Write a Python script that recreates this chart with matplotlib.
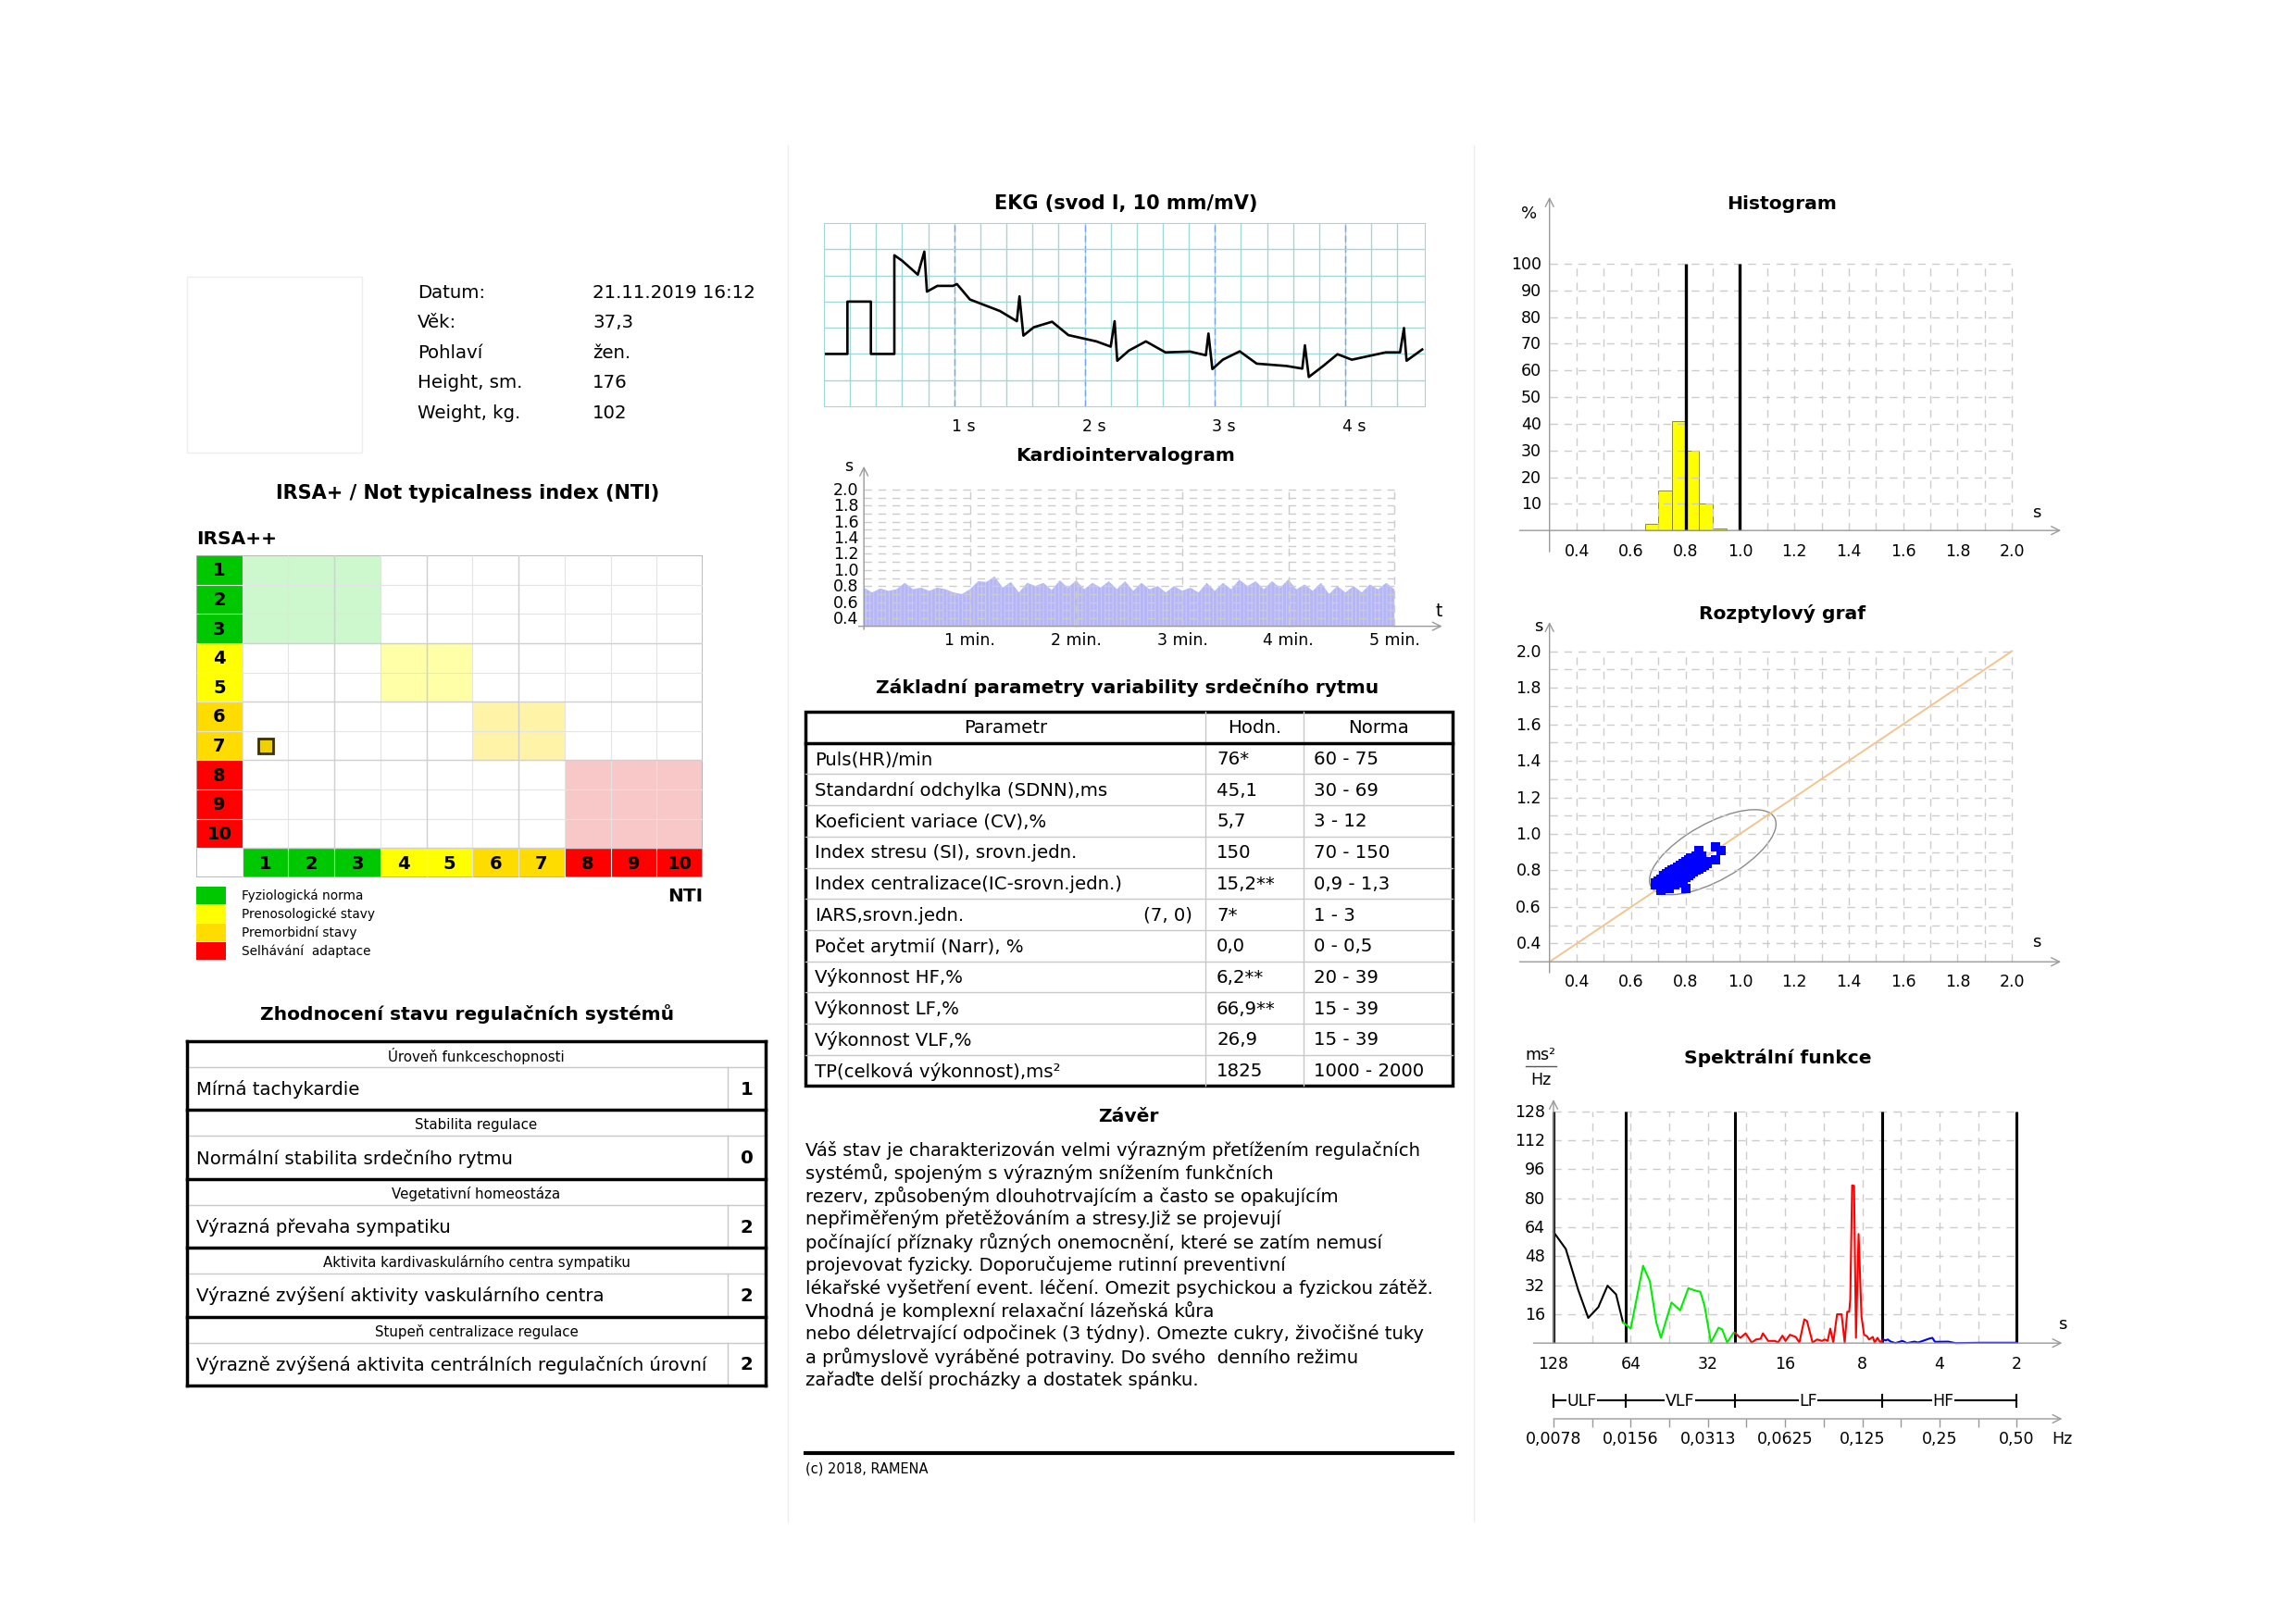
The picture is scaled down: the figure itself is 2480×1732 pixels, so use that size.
import matplotlib
matplotlib.use('Agg')
import matplotlib.pyplot as plt
from matplotlib.patches import Rectangle, Ellipse
import numpy as np

plt.rcParams['font.family'] = ['DejaVu Sans']
plt.rcParams['hatch.linewidth'] = 0.8

# ---------------- data ----------------
info_labels = ['Datum:', 'Věk:', 'Pohlaví', 'Height, sm.', 'Weight, kg.']
info_values = ['21.11.2019 16:12', '37,3', 'žen.', '176', '102']

level_colors = ['#00c800'] * 3 + ['#ffff00'] * 2 + ['#ffdc00'] * 2 + ['#ff0000'] * 3
zone_spans = [(1, 3), (4, 5), (6, 7), (8, 10)]
zone_colors = ['#cdf7cd', '#ffffa8', '#fff3a8', '#f8c8c8']
nti_value, irsa_value = 1, 7
legend_labels = ['Fyziologická norma', 'Prenosologické stavy', 'Premorbidní stavy', 'Selhávání  adaptace']
legend_colors = ['#00c800', '#ffff00', '#ffdc00', '#ff0000']

reg_headers = ['Úroveň funkceschopnosti', 'Stabilita regulace', 'Vegetativní homeostáza',
               'Aktivita kardivaskulárního centra sympatiku', 'Stupeň centralizace regulace']
reg_texts = ['Mírná tachykardie', 'Normální stabilita srdečního rytmu', 'Výrazná převaha sympatiku',
             'Výrazné zvýšení aktivity vaskulárního centra',
             'Výrazně zvýšená aktivita centrálních regulačních úrovní']
reg_scores = [1, 0, 2, 2, 2]

ekg_t = [0, 0.18, 0.18, 0.36, 0.36, 0.54, 0.54, 0.60, 0.72, 0.77, 0.79, 0.87, 0.99, 1.02, 1.12,
         1.35, 1.48, 1.50, 1.53, 1.61, 1.75, 1.875, 2.09, 2.20, 2.23, 2.25, 2.34, 2.47, 2.62, 2.81,
         2.93, 2.95, 2.98, 3.06, 3.19, 3.32, 3.55, 3.67, 3.69, 3.72, 3.83, 3.94, 4.05, 4.31, 4.42,
         4.45, 4.47, 4.59]
ekg_mv = [2, 2, 4, 4, 2, 2, 5.77, 5.56, 5.03, 5.91, 4.38, 4.6, 4.6, 4.67, 4.08,
          3.64, 3.25, 4.2, 2.7, 3.02, 3.23, 2.72, 2.48, 2.28, 3.25, 1.74, 2.13, 2.48, 2.06, 2.09,
          1.95, 2.78, 1.42, 1.78, 2.1, 1.63, 1.54, 1.44, 2.33, 1.12, 1.54, 1.99, 1.78, 2.06, 2.06,
          2.99, 1.74, 2.17]
ekg_ticks = [1, 2, 3, 4]

kig_rr = [0.78, 0.72, 0.77, 0.74, 0.76, 0.84, 0.76, 0.78, 0.74, 0.78, 0.76, 0.72, 0.70, 0.76,
          0.86, 0.85, 0.92, 0.78, 0.85, 0.72, 0.84, 0.80, 0.84, 0.75, 0.87, 0.78, 0.87, 0.76,
          0.84, 0.78, 0.86, 0.76, 0.86, 0.74, 0.84, 0.76, 0.80, 0.72, 0.80, 0.74, 0.78, 0.72,
          0.84, 0.74, 0.84, 0.76, 0.88, 0.80, 0.86, 0.76, 0.86, 0.78, 0.88, 0.76, 0.82, 0.74,
          0.84, 0.70, 0.80, 0.72, 0.80, 0.72, 0.82, 0.76, 0.84, 0.76]
kig_minutes = [1, 2, 3, 4, 5]

param_names = ['Puls(HR)/min', 'Standardní odchylka (SDNN),ms', 'Koeficient variace (CV),%',
               'Index stresu (SI), srovn.jedn.', 'Index centralizace(IC-srovn.jedn.)',
               'IARS,srovn.jedn.', 'Počet arytmií (Narr), %', 'Výkonnost HF,%', 'Výkonnost LF,%',
               'Výkonnost VLF,%', 'TP(celková výkonnost),ms²']
param_values = ['76*', '45,1', '5,7', '150', '15,2**', '7*', '0,0', '6,2**', '66,9**', '26,9', '1825']
param_norms = ['60 - 75', '30 - 69', '3 - 12', '70 - 150', '0,9 - 1,3', '1 - 3', '0 - 0,5',
               '20 - 39', '15 - 39', '15 - 39', '1000 - 2000']
iars_pair = '(7, 0)'

conclusion = [
    'Váš stav je charakterizován velmi výrazným přetížením regulačních',
    'systémů, spojeným s výrazným snížením funkčních',
    'rezerv, způsobeným dlouhotrvajícím a často se opakujícím',
    'nepřiměřeným přetěžováním a stresy.Již se projevují',
    'počínající příznaky různých onemocnění, které se zatím nemusí',
    'projevovat fyzicky. Doporučujeme rutinní preventivní',
    'lékařské vyšetření event. léčení. Omezit psychickou a fyzickou zátěž.',
    'Vhodná je komplexní relaxační lázeňská kůra',
    'nebo déletrvající odpočinek (3 týdny). Omezte cukry, živočišné tuky',
    'a průmyslově vyráběné potraviny. Do svého  denního režimu',
    'zařaďte delší procházky a dostatek spánku.',
]

hist_left = [0.65, 0.70, 0.75, 0.80, 0.85, 0.90]
hist_pct = [2.5, 15, 41, 30, 10, 0.8]
hist_marks = [0.8, 1.0]

# successive RR intervals (s) for the Poincaré plot
rr_seq = [0.70, 0.73, 0.70, 0.72, 0.75, 0.72, 0.74, 0.77, 0.74, 0.76, 0.79, 0.76, 0.78, 0.81,
          0.78, 0.80, 0.83, 0.80, 0.82, 0.85, 0.82, 0.84, 0.87, 0.84, 0.86, 0.88, 0.85, 0.83,
          0.86, 0.83, 0.80, 0.83, 0.80, 0.77, 0.80, 0.77, 0.74, 0.77, 0.74, 0.71, 0.74, 0.71,
          0.69, 0.72, 0.70, 0.73, 0.76, 0.74, 0.78, 0.76, 0.80, 0.78, 0.82, 0.80, 0.84, 0.82,
          0.86, 0.84, 0.88, 0.85, 0.91, 0.93, 0.91, 0.86, 0.84, 0.81, 0.84, 0.80, 0.77, 0.80,
          0.76, 0.78, 0.75, 0.72, 0.75, 0.72, 0.70, 0.73, 0.71, 0.74, 0.77, 0.75, 0.79, 0.82,
          0.79, 0.83, 0.86, 0.83, 0.81, 0.78, 0.81, 0.78, 0.75, 0.78, 0.75, 0.73, 0.76, 0.79,
          0.77, 0.80, 0.70, 0.74, 0.70, 0.73, 0.77, 0.73, 0.76, 0.80, 0.76, 0.79, 0.83, 0.79,
          0.82, 0.86, 0.82, 0.85, 0.88, 0.84, 0.87, 0.83, 0.86, 0.82, 0.78, 0.82, 0.78, 0.74,
          0.78, 0.74, 0.70, 0.74, 0.71, 0.69, 0.73, 0.71, 0.75, 0.72, 0.77, 0.74, 0.79, 0.76,
          0.81, 0.78, 0.83, 0.80, 0.85, 0.82, 0.87, 0.84, 0.88, 0.85, 0.81, 0.77, 0.81, 0.77,
          0.73, 0.77, 0.73, 0.70, 0.74, 0.72, 0.76, 0.73, 0.78, 0.75, 0.80, 0.77, 0.82, 0.79,
          0.84, 0.81, 0.86, 0.83, 0.80, 0.84, 0.80, 0.76, 0.80, 0.76, 0.72, 0.76, 0.73, 0.77,
          0.80, 0.77, 0.81, 0.84, 0.81, 0.78, 0.82, 0.79, 0.75, 0.79, 0.75, 0.78, 0.80]
ell_center, ell_major, ell_minor = 0.9, 0.6, 0.27

ulf_f = [0.00781, 0.00872, 0.00976, 0.01067, 0.01168, 0.01269, 0.01370, 0.01458]
ulf_p = [61.4, 52.0, 29.2, 13.9, 19.8, 31.7, 26.9, 11.4]
vlf_f = [0.01458, 0.01563, 0.01746, 0.01855, 0.01966, 0.02049, 0.02254, 0.02436, 0.02622,
         0.02761, 0.02919, 0.03031, 0.03211, 0.03439, 0.03555, 0.03714, 0.03938, 0.04004]
vlf_p = [11.4, 8.0, 42.7, 34.2, 11.4, 2.9, 22.4, 18.1, 30.3, 29.2, 28.3, 20.7, 0.3, 8.5, 7.5,
         0.3, 5.8, 5.4]
lf_f = [0.0400, 0.04182, 0.04384, 0.04627, 0.04817, 0.05018, 0.05120, 0.05367, 0.05704, 0.05860,
        0.06105, 0.06272, 0.06528, 0.06872, 0.07105, 0.07428, 0.07605, 0.07999, 0.08333, 0.08705,
        0.08913, 0.09157, 0.09375, 0.09633, 0.09967, 0.1038, 0.1067, 0.1092, 0.1111, 0.1122,
        0.1141, 0.1161, 0.1181, 0.1209, 0.1241, 0.1270, 0.1305, 0.1328, 0.1374, 0.1397, 0.1432,
        0.1471, 0.1502]
lf_p = [5.4, 2.9, 5.4, 0.3, 2.0, 2.4, 5.4, 1.2, 1.2, 0.3, 4.1, 1.2, 4.6, 3.4, 0.3, 13.1, 12.2,
        0.3, 2.0, 1.2, 2.0, 1.2, 8.0, 0.3, 15.9, 15.9, 0.3, 17.3, 17.3, 24.1, 87.1, 86.8, 2.9,
        60.2, 14.7, 4.6, 3.7, 2.0, 3.4, 0.3, 2.9, 0.3, 2.0]
hf_f = [0.1502, 0.1544, 0.1571, 0.1614, 0.1683, 0.1792, 0.1867, 0.1995, 0.2064, 0.2283, 0.2345,
        0.2401, 0.2702, 0.2893, 0.3662, 0.5]
hf_p = [2.0, 1.5, 2.0, 0.8, 0.0, 1.2, 0.0, 0.8, 0.3, 2.5, 2.9, 0.7, 0.8, 0.0, 0.2, 0.2]
band_edges = [1 / 128, 0.015, 0.04, 0.15, 0.5]
band_names = ['ULF', 'VLF', 'LF', 'HF']
period_labels = ['128', '64', '32', '16', '8', '4', '2']
freq_labels = ['0,0078', '0,0156', '0,0313', '0,0625', '0,125', '0,25', '0,50']

# ---------------- layout helpers ----------------
W, H = 2480, 1733
fig = plt.figure(figsize=(W / 100, H / 100), dpi=100)
bg = fig.add_axes([0, 0, 1, 1])
bg.set_xlim(0, W)
bg.set_ylim(H, 0)
bg.axis('off')

GRID = '#cccccc'
AXC = '#9a9a9a'
TFS = 14.6   # section titles
BFS = 14.2   # body text
KFS = 12.5   # tick labels


def place(x0, y0, x1, y1):
    ax = fig.add_axes([x0 / W, 1 - y1 / H, (x1 - x0) / W, (y1 - y0) / H])
    ax.patch.set_alpha(0)
    return ax


def bare(ax):
    for s in ax.spines.values():
        s.set_visible(False)
    ax.set_xticks([])
    ax.set_yticks([])


def arrow(ax, start, end):
    ax.annotate('', xy=end, xytext=start,
                arrowprops=dict(arrowstyle='->', color=AXC, lw=1.0, shrinkA=0, shrinkB=0,
                                mutation_scale=16),
                annotation_clip=False)


def dgrid(ax, hs, vs, x0, x1, y0, y1):
    ax.hlines(hs, x0, x1, colors=GRID, lw=1, linestyles=(0, (6, 5)))
    ax.vlines(vs, y0, y1, colors=GRID, lw=1, linestyles=(0, (6, 5)))


# column separators
bg.plot([851, 851], [158, 1645], color='#eeeeee', lw=1)
bg.plot([1592, 1592], [158, 1645], color='#eeeeee', lw=1)

# ---------------- info block ----------------
bg.add_patch(Rectangle((202, 300), 189, 190, fill=False, ec='#eeeeee', lw=1))
for i, (lab, val) in enumerate(zip(info_labels, info_values)):
    y = 316 + i * 32.5
    bg.text(451, y, lab, fontsize=BFS, va='center')
    bg.text(640, y, val, fontsize=BFS, va='center')

# ---------------- IRSA grid ----------------
bg.text(505, 533, 'IRSA+ / Not typicalness index (NTI)', fontsize=15, weight='bold',
        ha='center', va='center')
bg.text(212, 582, 'IRSA++', fontsize=14.5, weight='bold', va='center')
gx = place(212, 601, 759, 949)
gx.set_xlim(0, 11)
gx.set_ylim(11, 0)
bare(gx)
for (a, b), c in zip(zone_spans, zone_colors):
    gx.add_patch(Rectangle((a, a - 1), b - a + 1, b - a + 1, color=c, lw=0))
for i, c in enumerate(level_colors):
    gx.add_patch(Rectangle((0, i), 1, 1, color=c, lw=0))
    gx.add_patch(Rectangle((i + 1, 10), 1, 1, color=c, lw=0))
    gx.text(0.5, i + 0.5, str(i + 1), fontsize=14, weight='bold', ha='center', va='center')
    gx.text(i + 1.5, 10.5, str(i + 1), fontsize=14, weight='bold', ha='center', va='center')
gx.hlines(np.arange(1, 11), 0, 11, colors='#e4e4e4', lw=0.8)
gx.vlines(np.arange(1, 11), 0, 11, colors='#e4e4e4', lw=0.8)
gx.hlines([3, 5, 7, 10], 1, 11, colors='#d0d0d0', lw=1)
gx.vlines([3, 5, 7], 0, 10, colors='#d0d0d0', lw=1)
gx.add_patch(Rectangle((0, 0), 11, 11, fill=False, ec='#b0b0b0', lw=1.2))
gx.plot(nti_value + 0.5, irsa_value - 0.5, 's', ms=11, mfc='#f2d000', mec='#3a3000', mew=2)

for i, (lab, c) in enumerate(zip(legend_labels, legend_colors)):
    y = 968 + i * 20
    bg.add_patch(Rectangle((212, y - 9.5), 32, 19, color=c, lw=0))
    bg.text(261, y, lab, fontsize=9.8, va='center')
bg.text(759, 968, 'NTI', fontsize=14.5, weight='bold', ha='right', va='center')

# ---------------- regulation table ----------------
bg.text(505, 1096, 'Zhodnocení stavu regulačních systémů', fontsize=TFS, weight='bold',
        ha='center', va='center')
tx0, tx1, tvx, ty0, bh, sh = 202, 827, 786, 1126, 74.4, 28
for i, (hd, tx, sc) in enumerate(zip(reg_headers, reg_texts, reg_scores)):
    top = ty0 + i * bh
    bg.plot([tx0, tx1], [top + sh, top + sh], color='#c8c8c8', lw=1)
    bg.plot([tvx, tvx], [top + sh, top + bh], color='#c8c8c8', lw=1)
    bg.text((tx0 + tx1) / 2, top + sh / 2 + 1, hd, fontsize=10.8, ha='center', va='center')
    bg.text(tx0 + 10, top + sh + (bh - sh) / 2, tx, fontsize=BFS, va='center')
    bg.text((tvx + tx1) / 2, top + sh + (bh - sh) / 2, str(sc), fontsize=BFS, weight='bold',
            ha='center', va='center')
    bg.plot([tx0, tx1], [top, top], color='black', lw=2.5)
bg.plot([tx0, tx1], [ty0 + 5 * bh, ty0 + 5 * bh], color='black', lw=2.5)
bg.plot([tx0, tx0], [ty0, ty0 + 5 * bh], color='black', lw=2.5)
bg.plot([tx1, tx1], [ty0, ty0 + 5 * bh], color='black', lw=2.5)

# ---------------- EKG ----------------
bg.text(1216, 220, 'EKG (svod I, 10 mm/mV)', fontsize=15, weight='bold', ha='center', va='center')
ek = place(890, 242, 1539, 440)
ek.set_xlim(0, 4.61)
ek.set_ylim(0, 7)
for s in ek.spines.values():
    s.set_color('#9fd8d8')
ek.vlines(np.arange(0.2, 4.6, 0.2), 0, 7, colors='#9fd8d8', lw=1)
ek.vlines(ekg_ticks, 0, 7, colors='#7f9fe8', lw=1, linestyles=(0, (5, 3)))
ek.hlines(np.arange(1, 7), 0, 4.61, colors='#9fd8d8', lw=1)
ek.plot(ekg_t, ekg_mv, color='black', lw=1.9)
ek.set_xticks([])
ek.set_yticks([])
for t in ekg_ticks:
    ek.text(t + 0.07, -0.75, f'{t} s', fontsize=KFS, ha='center', va='center')

# ---------------- Kardiointervalogram ----------------
bg.text(1216, 492, 'Kardiointervalogram', fontsize=TFS, weight='bold', ha='center', va='center')
kg = place(924, 503, 1560, 682)
kg.set_xlim(-0.08, 5.47)
kg.set_ylim(0.25, 2.31)
bare(kg)
kt = np.linspace(0, 5, len(kig_rr))
kg.fill_between(kt, 0.3, kig_rr, facecolor='#b6b6f4', edgecolor='#c9c9f8', hatch='||||', lw=0)
dgrid(kg, np.arange(0.4, 2.01, 0.1), kig_minutes, 0, 5, 0.3, 2.0)
arrow(kg, (-0.05, 0.3), (5.45, 0.3))
arrow(kg, (0, 0.26), (0, 2.29))
for v in np.arange(0.4, 2.01, 0.2):
    kg.text(-0.05, v, f'{v:.1f}', fontsize=KFS, ha='right', va='center')
for m in kig_minutes:
    kg.text(m, 0.14, f'{m} min.', fontsize=KFS, ha='center', va='center')
kg.text(-0.14, 2.3, 's', fontsize=12.5, ha='center', va='center')
kg.text(5.42, 0.5, 't', fontsize=13.5, ha='center', va='center')

# ---------------- parameter table ----------------
bg.text(1218, 743, 'Základní parametry variability srdečního rytmu', fontsize=TFS, weight='bold',
        ha='center', va='center')
px0, px1, pc1, pc2, py0, rh = 870, 1569, 1302, 1408, 770, 33.7
nrow = len(param_names) + 1
for r in range(1, nrow):
    bg.plot([px0, px1], [py0 + r * rh, py0 + r * rh], color='#c8c8c8', lw=1)
bg.plot([pc1, pc1], [py0, py0 + nrow * rh], color='#c8c8c8', lw=1)
bg.plot([pc2, pc2], [py0, py0 + nrow * rh], color='#c8c8c8', lw=1)
bg.plot([px0, px1], [py0 + rh, py0 + rh], color='black', lw=2.5)
bg.add_patch(Rectangle((px0, py0), px1 - px0, nrow * rh, fill=False, ec='black', lw=2.5))
bg.text((px0 + pc1) / 2, py0 + rh / 2, 'Parametr', fontsize=BFS, ha='center', va='center')
bg.text((pc1 + pc2) / 2, py0 + rh / 2, 'Hodn.', fontsize=BFS, ha='center', va='center')
bg.text((pc2 + px1) / 2, py0 + rh / 2, 'Norma', fontsize=BFS, ha='center', va='center')
for r, (nm, vl, nr) in enumerate(zip(param_names, param_values, param_norms)):
    yc = py0 + (r + 1.5) * rh
    bg.text(px0 + 10, yc, nm, fontsize=BFS, va='center')
    bg.text(pc1 + 12, yc, vl, fontsize=BFS, va='center')
    bg.text(pc2 + 11, yc, nr, fontsize=BFS, va='center')
bg.text(pc1 - 14, py0 + 6.5 * rh, iars_pair, fontsize=BFS, ha='right', va='center')

# ---------------- conclusion ----------------
bg.text(1219, 1207, 'Závěr', fontsize=TFS, weight='bold', ha='center', va='center')
for i, line in enumerate(conclusion):
    bg.text(870, 1243 + i * 24.8, line, fontsize=14.1, va='center')
bg.plot([870, 1569], [1571, 1571], color='black', lw=3)
bg.text(870, 1587, '(c) 2018, RAMENA', fontsize=10.5, va='center')

# ---------------- histogram ----------------
bg.text(1925, 220, 'Histogram', fontsize=TFS, weight='bold', ha='center', va='center')
hx = place(1659, 211, 2232, 603)
hx.set_xlim(0.25, 2.2)
hx.set_ylim(-10, 126)
bare(hx)
dgrid(hx, np.arange(10, 101, 10), np.arange(0.4, 2.01, 0.1), 0.3, 2.0, 0, 100)
hx.bar(hist_left, hist_pct, width=0.05, align='edge', color='#ffff00', edgecolor='#7a7a30', lw=0.6)
hx.vlines(hist_marks, 0, 100, colors='black', lw=2.4)
arrow(hx, (0.19, 0), (2.18, 0))
arrow(hx, (0.3, -8), (0.3, 125))
for v in range(10, 101, 10):
    hx.text(0.27, v, str(v), fontsize=KFS, ha='right', va='center')
for v in np.arange(0.4, 2.01, 0.2):
    hx.text(v, -7.5, f'{v:.1f}', fontsize=KFS, ha='center', va='center')
hx.text(0.225, 119, '%', fontsize=13, ha='center', va='center')
hx.text(2.09, 7, 's', fontsize=13, ha='center', va='center')

# ---------------- scatter ----------------
bg.text(1925, 663, 'Rozptylový graf', fontsize=TFS, weight='bold', ha='center', va='center')
sx = place(1659, 669, 2232, 1056)
sx.set_xlim(0.25, 2.2)
sx.set_ylim(0.22, 2.18)
bare(sx)
dgrid(sx, np.arange(0.4, 2.01, 0.1), np.arange(0.4, 2.01, 0.1), 0.3, 2.0, 0.3, 2.0)
sx.plot([0.3, 2.0], [0.3, 2.0], color='#f3c58e', lw=1.4)
sx.add_patch(Ellipse((ell_center, ell_center), ell_major, ell_minor, angle=45, fill=False,
                     ec='#8a8a8a', lw=1))
sx.plot(rr_seq[:-1], rr_seq[1:], 's', color='#0000ff', ms=6.5, mew=0)
arrow(sx, (0.19, 0.3), (2.18, 0.3))
arrow(sx, (0.3, 0.24), (0.3, 2.16))
for v in np.arange(0.4, 2.01, 0.2):
    sx.text(0.27, v, f'{v:.1f}', fontsize=KFS, ha='right', va='center')
    sx.text(v, 0.195, f'{v:.1f}', fontsize=KFS, ha='center', va='center')
sx.text(0.26, 2.14, 's', fontsize=13, ha='center', va='center')
sx.text(2.09, 0.41, 's', fontsize=13, ha='center', va='center')

# ---------------- spectrum ----------------
bg.text(1920, 1143, 'Spektrální funkce', fontsize=TFS, weight='bold', ha='center', va='center')
bg.text(1664, 1140, 'ms²', fontsize=12.5, ha='center', va='center')
bg.plot([1648, 1681], [1153, 1153], color='#555555', lw=1)
bg.text(1664, 1167, 'Hz', fontsize=12.5, ha='center', va='center')
f0, f1 = band_edges[0], band_edges[-1]
xl = (f0 * 2 ** -0.3, f1 * 2 ** 0.62)
px = place(1653, 1186, 2230, 1460)
px.set_xscale('log', base=2)
px.set_xlim(*xl)
px.set_ylim(-4, 136)
bare(px)
half = f0 * 2 ** (np.arange(0, 13) / 2)
dgrid(px, np.arange(16, 129, 16), half, f0, f1, 0, 128)
px.vlines(band_edges, 0, 128, colors='black', lw=2.2)
px.plot(ulf_f, ulf_p, color='black', lw=1.5)
px.plot(vlf_f, vlf_p, color='#00ee00', lw=1.5)
px.plot(lf_f, lf_p, color='#ff0000', lw=1.5)
px.plot(hf_f, hf_p, color='#0000ff', lw=1.5)
arrow(px, (f0 * 2 ** -0.26, 0), (f1 * 2 ** 0.59, 0))
arrow(px, (f0, 0), (f0, 134.5))
for v in range(16, 129, 16):
    px.text(f0 * 2 ** -0.11, v, str(v), fontsize=KFS, ha='right', va='center')
for i, lab in enumerate(period_labels):
    px.text(f0 * 2 ** i, -11, lab, fontsize=KFS, ha='center', va='center')
px.text(f1 * 2 ** 0.59, 11, 's', fontsize=13, ha='center', va='center')

fq = place(1653, 1495, 2230, 1545)
fq.set_xscale('log', base=2)
fq.set_xlim(*xl)
fq.set_ylim(0, 1)
bare(fq)
fq.plot([f0, f1], [0.62, 0.62], color='black', lw=1.5)
fq.vlines(band_edges, 0.47, 0.77, colors='black', lw=1.5)
lab_pos = [0.0101, 0.0243, 0.0768, 0.2585]
for nm, xp in zip(band_names, lab_pos):
    fq.text(xp, 0.62, nm, fontsize=KFS, ha='center', va='center',
            bbox=dict(fc='white', ec='none', pad=0.3))
arrow(fq, (f0, 0.22), (f1 * 2 ** 0.59, 0.22))
fq.vlines(half, 0.05, 0.22, colors=AXC, lw=1)
for i, lab in enumerate(freq_labels):
    fq.text(f0 * 2 ** i, -0.2, lab, fontsize=KFS, ha='center', va='center')
fq.text(f1 * 2 ** 0.59, -0.2, 'Hz', fontsize=KFS, ha='center', va='center')

fig.savefig('out.png', dpi=100, facecolor='white')
